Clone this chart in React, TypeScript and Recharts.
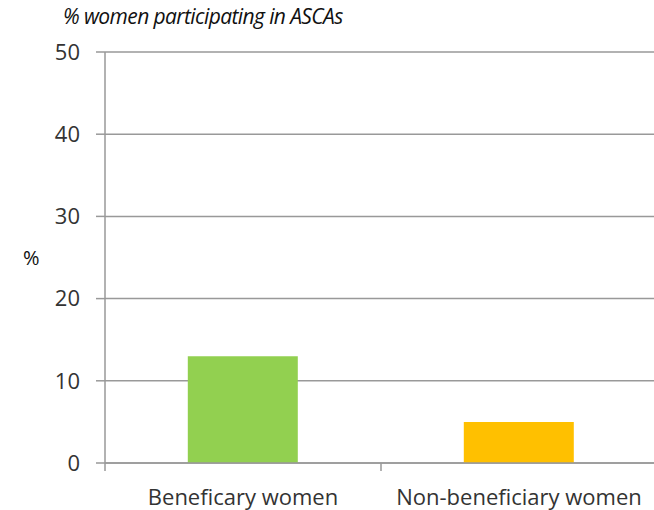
import React from 'react';
import { BarChart, Bar, XAxis, YAxis, CartesianGrid, Cell } from 'recharts';

const categories = ['Beneficary women', 'Non-beneficiary women'];
const values = [13, 5];
const colors = ['#92D050', '#FFC000'];
const yTicks = [0, 10, 20, 30, 40, 50];
const title = '% women participating in ASCAs';
const yLabel = '%';

const data = categories.map((c, i) => ({ name: c, value: values[i] }));

const FONT = '"Open Sans", sans-serif';
const TICK_MARGIN = 26;

const XTick = (props: any) => {
  const { x, y, payload, index } = props;
  const off = payload && payload.offset ? payload.offset : 0;
  const axisY = y - TICK_MARGIN;
  return (
    <g>
      {index === 0 && (
        <line x1={x - off} x2={x - off} y1={axisY} y2={axisY + 8} stroke="#999" strokeWidth={1.5} />
      )}
      <line x1={x + off} x2={x + off} y1={axisY} y2={axisY + 8} stroke="#999" strokeWidth={1.5} />
      <text x={x} y={y} dy="0.71em" textAnchor="middle" fill="#333" fontSize={22} fontFamily={FONT}>
        {payload.value}
      </text>
    </g>
  );
};

export default function App() {
  return (
    <div
      style={{
        position: 'fixed',
        left: 0,
        top: 0,
        width: 654,
        height: 510,
        overflow: 'hidden',
        background: '#fff',
      }}
    >
      <div
        style={{
          position: 'absolute',
          left: 63,
          top: 2,
          fontFamily: FONT,
          fontStyle: 'italic',
          fontSize: 21,
          color: '#111',
          whiteSpace: 'nowrap',
          letterSpacing: -0.6,
        }}
      >
        {title}
      </div>
      <BarChart
        width={660}
        height={510}
        data={data}
        margin={{ top: 52, right: 3, bottom: 0, left: 0 }}
        barCategoryGap="30%"
      >
        <CartesianGrid vertical={false} stroke="#999" strokeWidth={1.5} />
        <XAxis
          dataKey="name"
          height={47}
          axisLine={{ stroke: '#999', strokeWidth: 1.5 }}
          tickLine={false}
          tickSize={0}
          tickMargin={TICK_MARGIN}
          tick={<XTick />}
          interval={0}
        />
        <YAxis
          width={105}
          domain={[0, 50]}
          ticks={yTicks}
          interval={0}
          axisLine={{ stroke: '#999', strokeWidth: 1.5 }}
          tickLine={{ stroke: '#999', strokeWidth: 1.5 }}
          tickSize={9}
          tickMargin={16}
          tick={{ fill: '#333', fontSize: 22, fontFamily: FONT }}
          label={{ value: yLabel, position: 'insideLeft', offset: 23, fill: '#111', fontSize: 20, fontFamily: FONT }}
        />
        <Bar dataKey="value" isAnimationActive={false}>
          {data.map((d, i) => (
            <Cell key={d.name} fill={colors[i]} />
          ))}
        </Bar>
      </BarChart>
    </div>
  );
}
